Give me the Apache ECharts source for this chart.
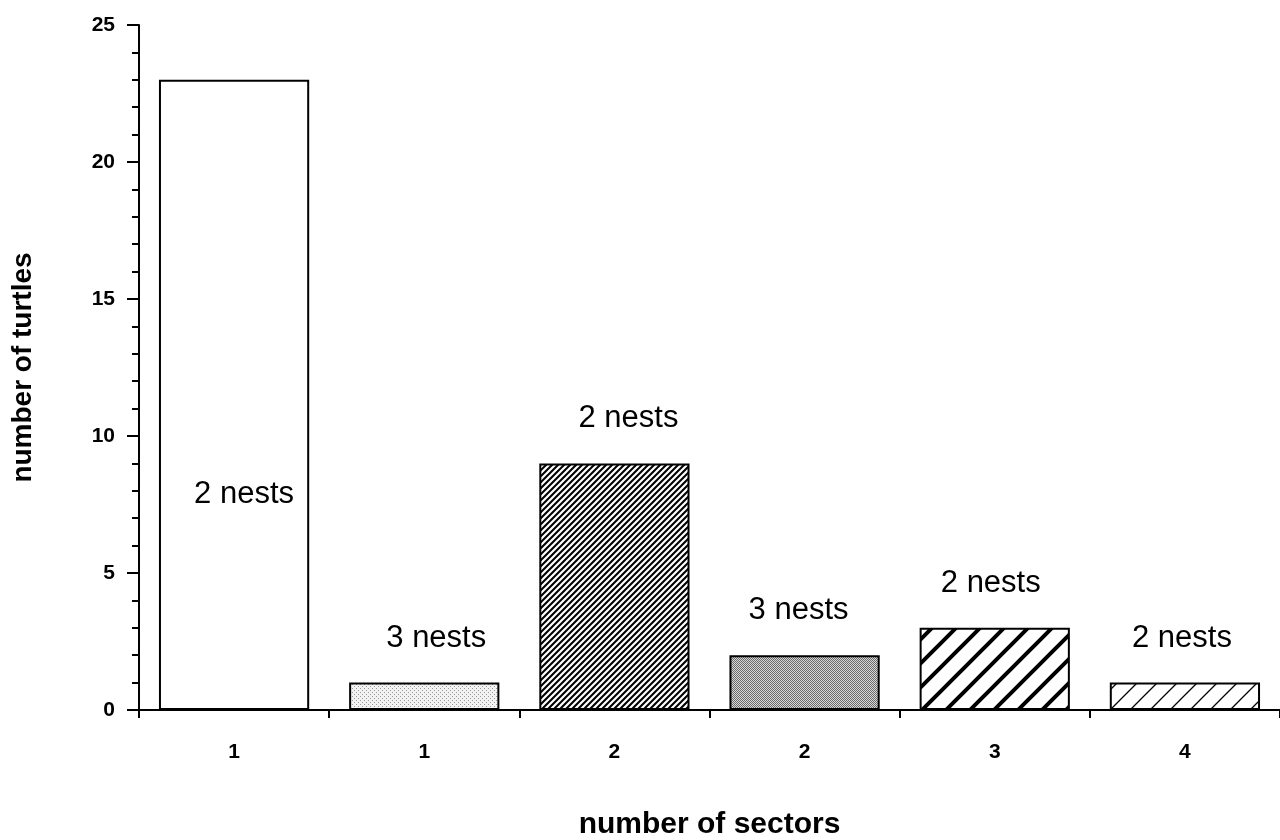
<!DOCTYPE html>
<html>
<head>
<meta charset="utf-8">
<script src="https://cdn.jsdelivr.net/npm/echarts@6/dist/echarts.min.js"></script>
<style>
  html, body { margin: 0; padding: 0; background: #fff; }
  #chart { width: 1280px; height: 840px; }
</style>
</head>
<body>
<div id="chart"></div>
<script>
const sectors = ['1', '1', '2', '2', '3', '4']
const turtles = [23, 1, 9, 2, 3, 1]
const nestLabels = ['2 nests', '3 nests', '2 nests', '3 nests', '2 nests', '2 nests']
const yTicks = [0, 5, 10, 15, 20, 25]

// fill patterns, roughly like the old print
function dots(fg, bg, step) {
  const c = document.createElement('canvas')
  c.width = c.height = step * 2
  const ctx = c.getContext('2d')
  ctx.fillStyle = bg
  ctx.fillRect(0, 0, c.width, c.height)
  ctx.fillStyle = fg
  ctx.fillRect(0, 0, 1, 1)
  ctx.fillRect(step, step, 1, 1)
  return c
}

function checker(fg, bg) {
  const c = document.createElement('canvas')
  c.width = c.height = 2
  const ctx = c.getContext('2d')
  ctx.fillStyle = bg
  ctx.fillRect(0, 0, 2, 2)
  ctx.fillStyle = fg
  ctx.fillRect(0, 0, 1, 1)
  ctx.fillRect(1, 1, 1, 1)
  return c
}

function hatch(size, width, fg, bg) {
  const c = document.createElement('canvas')
  c.width = c.height = size
  const ctx = c.getContext('2d')
  ctx.fillStyle = bg
  ctx.fillRect(0, 0, size, size)
  ctx.strokeStyle = fg
  ctx.lineWidth = width
  ctx.beginPath()
  ctx.moveTo(-size, size * 2); ctx.lineTo(size * 2, -size)
  ctx.moveTo(-size, size); ctx.lineTo(size, -size)
  ctx.moveTo(0, size * 2); ctx.lineTo(size * 2, 0)
  ctx.stroke()
  return c
}

const fills = [
  '#ffffff',
  { image: dots('#9a9a9a', '#f2f2f2', 2), repeat: 'repeat' },
  { image: hatch(6, 2.2, '#ffffff', '#000000'), repeat: 'repeat' },
  { image: checker('#6a6a6a', '#d8d8d8'), repeat: 'repeat' },
  { image: hatch(24, 4, '#000000', '#ffffff'), repeat: 'repeat' },
  { image: hatch(20, 1.3, '#000000', '#ffffff'), repeat: 'repeat' },
]

// label placement tweaks per bar (first one sits inside the tall bar)
const labelStyles = [
  { position: 'inside', offset: [10, 100] },
  { position: 'top', distance: 29, offset: [12, 0] },
  { position: 'top', distance: 29, offset: [14, 0] },
  { position: 'top', distance: 29, offset: [-6, 0] },
  { position: 'top', distance: 29, offset: [-4, 0] },
  { position: 'top', distance: 29, offset: [-3, 0] },
]

const chart = echarts.init(document.getElementById('chart'))

chart.setOption({
  animation: false,
  textStyle: { fontFamily: 'Arial, "Liberation Sans", sans-serif', color: '#000' },
  grid: { left: 139, right: 0, top: 25, bottom: 130, containLabel: false, outerBoundsMode: 'none' },
  xAxis: {
    type: 'category',
    data: sectors,
    name: 'number of sectors',
    nameLocation: 'middle',
    nameGap: 100,
    nameTextStyle: { fontSize: 30, fontWeight: 'bold', color: '#000' },
    axisLine: { lineStyle: { color: '#000', width: 2 } },
    axisTick: { show: true, length: 8, alignWithLabel: false, lineStyle: { color: '#000', width: 2 } },
    axisLabel: { fontSize: 21, fontWeight: 'bold', color: '#000', margin: 32 },
  },
  yAxis: {
    type: 'value',
    min: yTicks[0],
    max: yTicks[yTicks.length - 1],
    interval: 5,
    name: 'number of turtles',
    nameLocation: 'middle',
    nameGap: 102,
    nameTextStyle: { fontSize: 28, fontWeight: 'bold', color: '#000' },
    axisLine: { show: true, lineStyle: { color: '#000', width: 2 } },
    axisTick: { show: true, length: 12, lineStyle: { color: '#000', width: 2 } },
    minorTick: { show: true, splitNumber: 5, length: 7, lineStyle: { color: '#000', width: 2 } },
    axisLabel: { fontSize: 21, fontWeight: 'bold', color: '#000', margin: 24 },
    splitLine: { show: false },
  },
  series: [{
    type: 'bar',
    barWidth: '79%',
    data: turtles.map((v, i) => ({
      value: v,
      itemStyle: { color: fills[i], borderColor: '#000', borderWidth: 2 },
      label: labelStyles[i],
    })),
    label: {
      show: true,
      fontSize: 31,
      color: '#000',
      formatter: p => nestLabels[p.dataIndex],
    },
  }],
})
</script>
</body>
</html>
